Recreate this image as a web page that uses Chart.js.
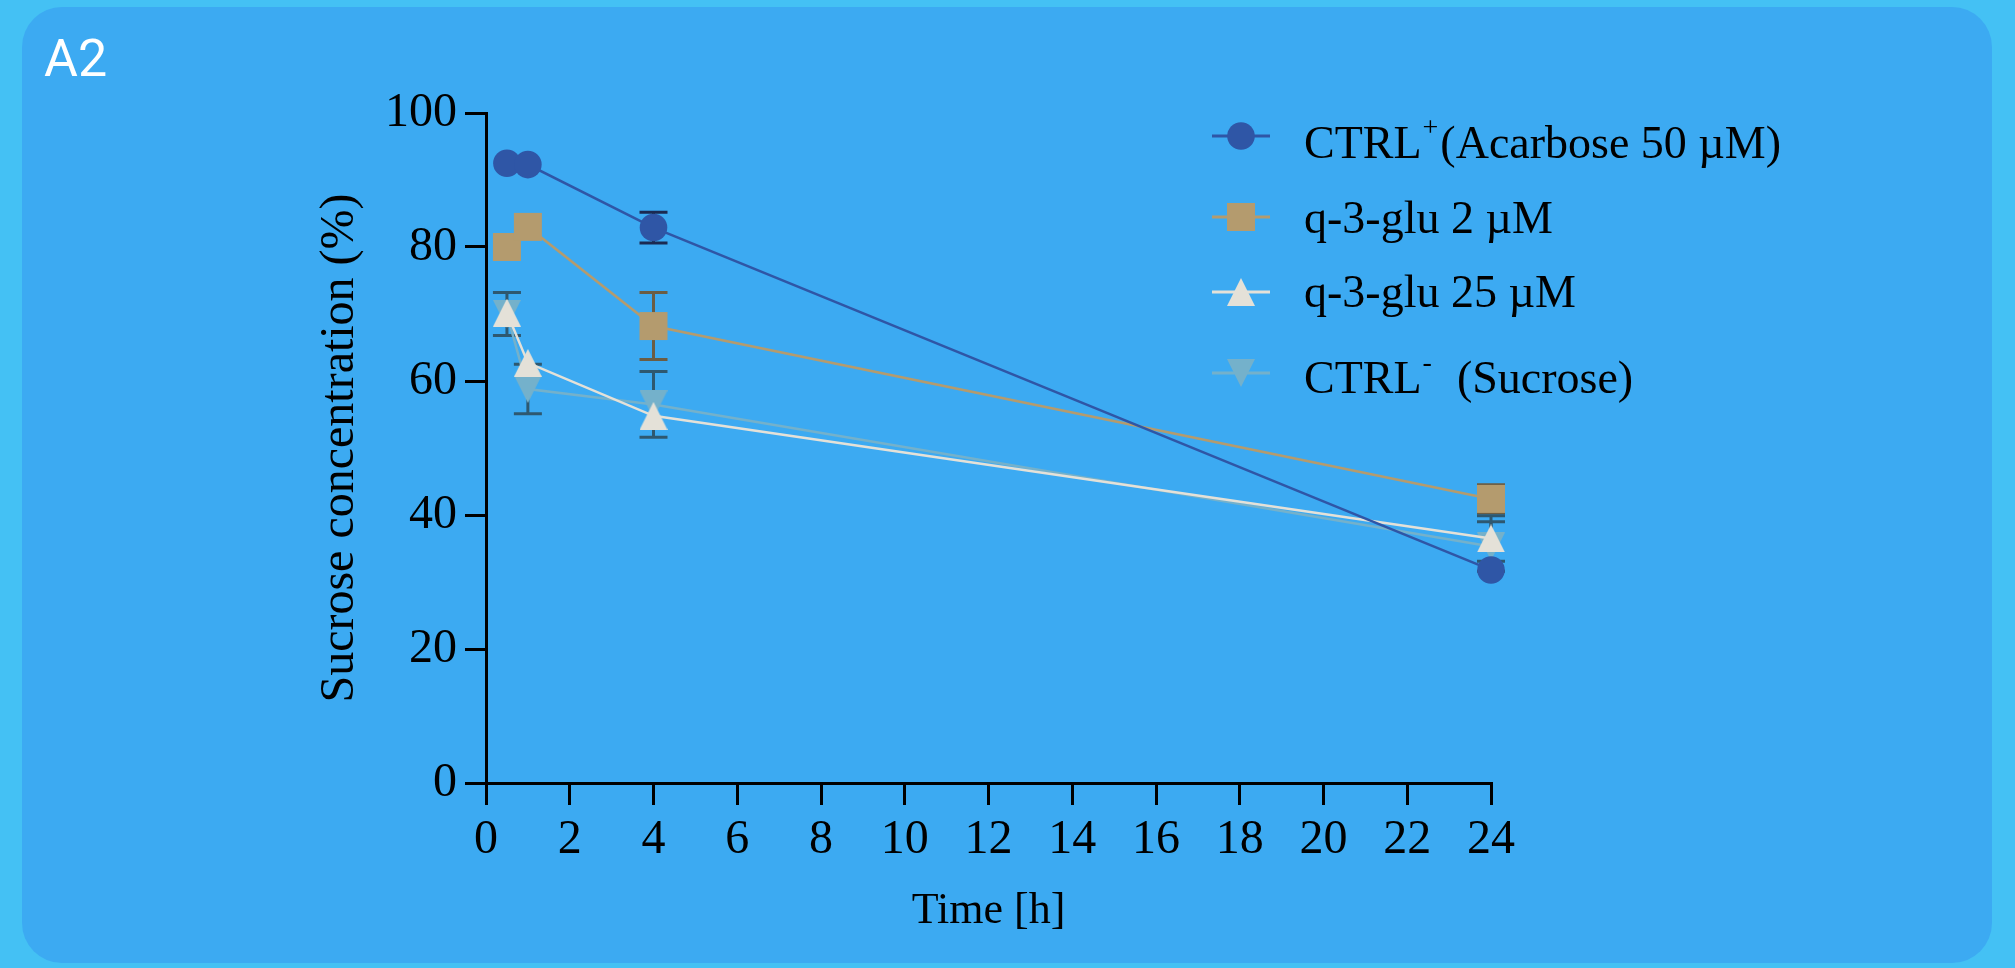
<!DOCTYPE html>
<html><head><meta charset="utf-8">
<script src="https://cdn.jsdelivr.net/npm/chart.js@4/dist/chart.umd.min.js"></script>
<style>
html,body{margin:0;padding:0;background:#44C1F4;width:2015px;height:968px;overflow:hidden}
#card{position:absolute;left:22px;top:7px;width:1970px;height:956px;background:#3CAAF2;border-radius:40px}
#lbl{position:absolute;left:44px;top:28px;color:#fff;font:52px Roboto,"Liberation Sans",sans-serif}
#c{position:absolute;left:0;top:0}
</style></head><body>
<div id="card"></div><div id="lbl">A2</div>
<canvas id="c" width="2015" height="968"></canvas>
<script>
// ---- data ----
const timePoints = [0.5, 1, 4, 24];
const seriesNames = ['CTRL', 'q-3-glu 2 µM', 'q-3-glu 25 µM', 'CTRL'];
const seriesSup = ['+', '', '', '-'];
const seriesSuffix = ['(Acarbose 50 µM)', '', '', '  (Sucrose)'];
const ctrlPos = [92.5, 92.3, 82.9, 31.8];
const ctrlPosErr = [0, 0, 2.3, 0];
const glu2 = [80.0, 83.0, 68.2, 42.4];
const glu2Err = [0, 0, 5.0, 2.1];
const glu25 = [70.2, 62.7, 54.8, 36.5];
const glu25Err = [0, 0, 0, 3.4];
const ctrlNeg = [70.0, 58.8, 56.5, 35.3];
const ctrlNegErr = [3.2, 3.7, 4.9, 3.7];
const xTickValues = [0, 2, 4, 6, 8, 10, 12, 14, 16, 18, 20, 22, 24];
const yTickValues = [0, 20, 40, 60, 80, 100];

const SERIF = '"Liberation Serif","Times New Roman",serif';
const toPts = v => v.map((y, i) => ({x: timePoints[i], y}));
const fullLabel = i => seriesNames[i] + seriesSup[i] + seriesSuffix[i];

function triCanvas(color, down) {
  const c = document.createElement('canvas');
  c.width = 28; c.height = 28;
  const g = c.getContext('2d');
  g.fillStyle = color; g.beginPath();
  if (!down) { g.moveTo(14, 0); g.lineTo(28, 28); g.lineTo(0, 28); }
  else { g.moveTo(0, 0); g.lineTo(28, 0); g.lineTo(14, 28); }
  g.closePath(); g.fill();
  return c;
}

const styles = [
  {color:'#2F56A6', err:'#1B2A52', shape:'circle', r:13.8},
  {color:'#B49B6E', err:'#6B5D44', shape:'rect', r:19.8},
  {color:'#E4E1D8', err:'#2E5870', shape:triCanvas('#E4E1D8', false), r:14},
  {color:'#74B1CB', err:'#2E5870', shape:triCanvas('#74B1CB', true), r:14}
];
const values = [ctrlPos, glu2, glu25, ctrlNeg];
const errors = [ctrlPosErr, glu2Err, glu25Err, ctrlNegErr];

const datasets = values.map((v, i) => ({
  label: fullLabel(i),
  data: toPts(v),
  errors: errors[i],
  errorColor: styles[i].err,
  borderColor: styles[i].color,
  backgroundColor: styles[i].color,
  borderWidth: 2.5,
  pointStyle: styles[i].shape,
  pointRadius: styles[i].r,
  pointBorderWidth: 0,
  pointBackgroundColor: styles[i].color,
  clip: false,
  tension: 0
}));

const errorBarPlugin = {
  id: 'errorBars',
  beforeDatasetsDraw(chart) {
    const {ctx, scales: {x, y}} = chart;
    chart.data.datasets.forEach(ds => {
      ds.data.forEach((pt, j) => {
        const e = ds.errors[j];
        if (!e) return;
        const px = x.getPixelForValue(pt.x);
        const t = y.getPixelForValue(pt.y + e), b = y.getPixelForValue(pt.y - e);
        ctx.save();
        ctx.strokeStyle = ds.errorColor; ctx.lineWidth = 3;
        ctx.beginPath();
        ctx.moveTo(px, t); ctx.lineTo(px, b);
        ctx.moveTo(px - 14, t); ctx.lineTo(px + 14, t);
        ctx.moveTo(px - 14, b); ctx.lineTo(px + 14, b);
        ctx.stroke(); ctx.restore();
      });
    });
  }
};

function drawMarker(ctx, st, x, y) {
  ctx.fillStyle = st.color;
  ctx.beginPath();
  if (st.shape === 'circle') { ctx.arc(x, y, st.r, 0, Math.PI * 2); ctx.fill(); }
  else if (st.shape === 'rect') { const s = Math.SQRT1_2 * st.r; ctx.rect(x - s, y - s, 2 * s, 2 * s); ctx.fill(); }
  else { ctx.drawImage(st.shape, x - st.shape.width / 2, y - st.shape.height / 2); }
}

const legendPlugin = {
  id: 'customLegend',
  afterDraw(chart) {
    const ctx = chart.ctx;
    const rowsY = [136, 217, 292, 373];
    const baseY = [158, 233, 307, 393];
    chart.data.datasets.forEach((ds, i) => {
      const st = styles[i], y = rowsY[i];
      ctx.save();
      ctx.strokeStyle = st.color; ctx.lineWidth = 3;
      ctx.beginPath(); ctx.moveTo(1212, y); ctx.lineTo(1270, y); ctx.stroke();
      drawMarker(ctx, st, 1241, y);
      ctx.fillStyle = '#000'; ctx.textBaseline = 'alphabetic'; ctx.textAlign = 'left';
      let x = 1304; const base = baseY[i];
      ctx.font = '46px ' + SERIF;
      ctx.fillText(seriesNames[i], x, base);
      x += ctx.measureText(seriesNames[i]).width;
      if (seriesSup[i]) {
        ctx.font = '28px ' + SERIF;
        ctx.fillText(seriesSup[i], x + 1, base - 22);
        x += ctx.measureText(seriesSup[i]).width + 3;
      }
      if (seriesSuffix[i]) {
        ctx.font = '46px ' + SERIF;
        ctx.fillText(seriesSuffix[i], x, base);
      }
      ctx.restore();
    });
  }
};

new Chart(document.getElementById('c'), {
  type: 'line',
  data: {datasets},
  plugins: [errorBarPlugin, legendPlugin],
  options: {
    responsive: false, animation: false, devicePixelRatio: 1,
    layout: {padding: {left: 300, right: 524, top: 113, bottom: 0}},
    plugins: {legend: {display: false}, tooltip: {enabled: false}},
    scales: {
      x: {
        type: 'linear', min: 0, max: 24,
        afterBuildTicks: s => { s.ticks = xTickValues.map(v => ({value: v})); },
        afterFit: s => { s.height = 185; },
        grid: {drawOnChartArea: false, drawTicks: true, tickLength: 22, color: '#000', lineWidth: 3},
        border: {display: true, color: '#000', width: 3},
        ticks: {color: '#000', font: {family: SERIF, size: 48}, padding: 7, maxRotation: 0, autoSkip: false},
        title: {display: true, text: 'Time [h]', color: '#000', font: {family: SERIF, size: 44}, padding: {top: 30, bottom: 30}}
      },
      y: {
        type: 'linear', min: 0, max: 100,
        afterBuildTicks: s => { s.ticks = yTickValues.map(v => ({value: v})); },
        afterFit: s => { s.width = 186; },
        grid: {drawOnChartArea: false, drawTicks: true, tickLength: 21, color: '#000', lineWidth: 3},
        border: {display: true, color: '#000', width: 3},
        ticks: {color: '#000', font: {family: SERIF, size: 48}, padding: 8},
        title: {display: true, text: 'Sucrose concentration (%)', color: '#000', font: {family: SERIF, size: 48}, padding: {top: 12, bottom: 12}}
      }
    }
  }
});
</script>
</body></html>
